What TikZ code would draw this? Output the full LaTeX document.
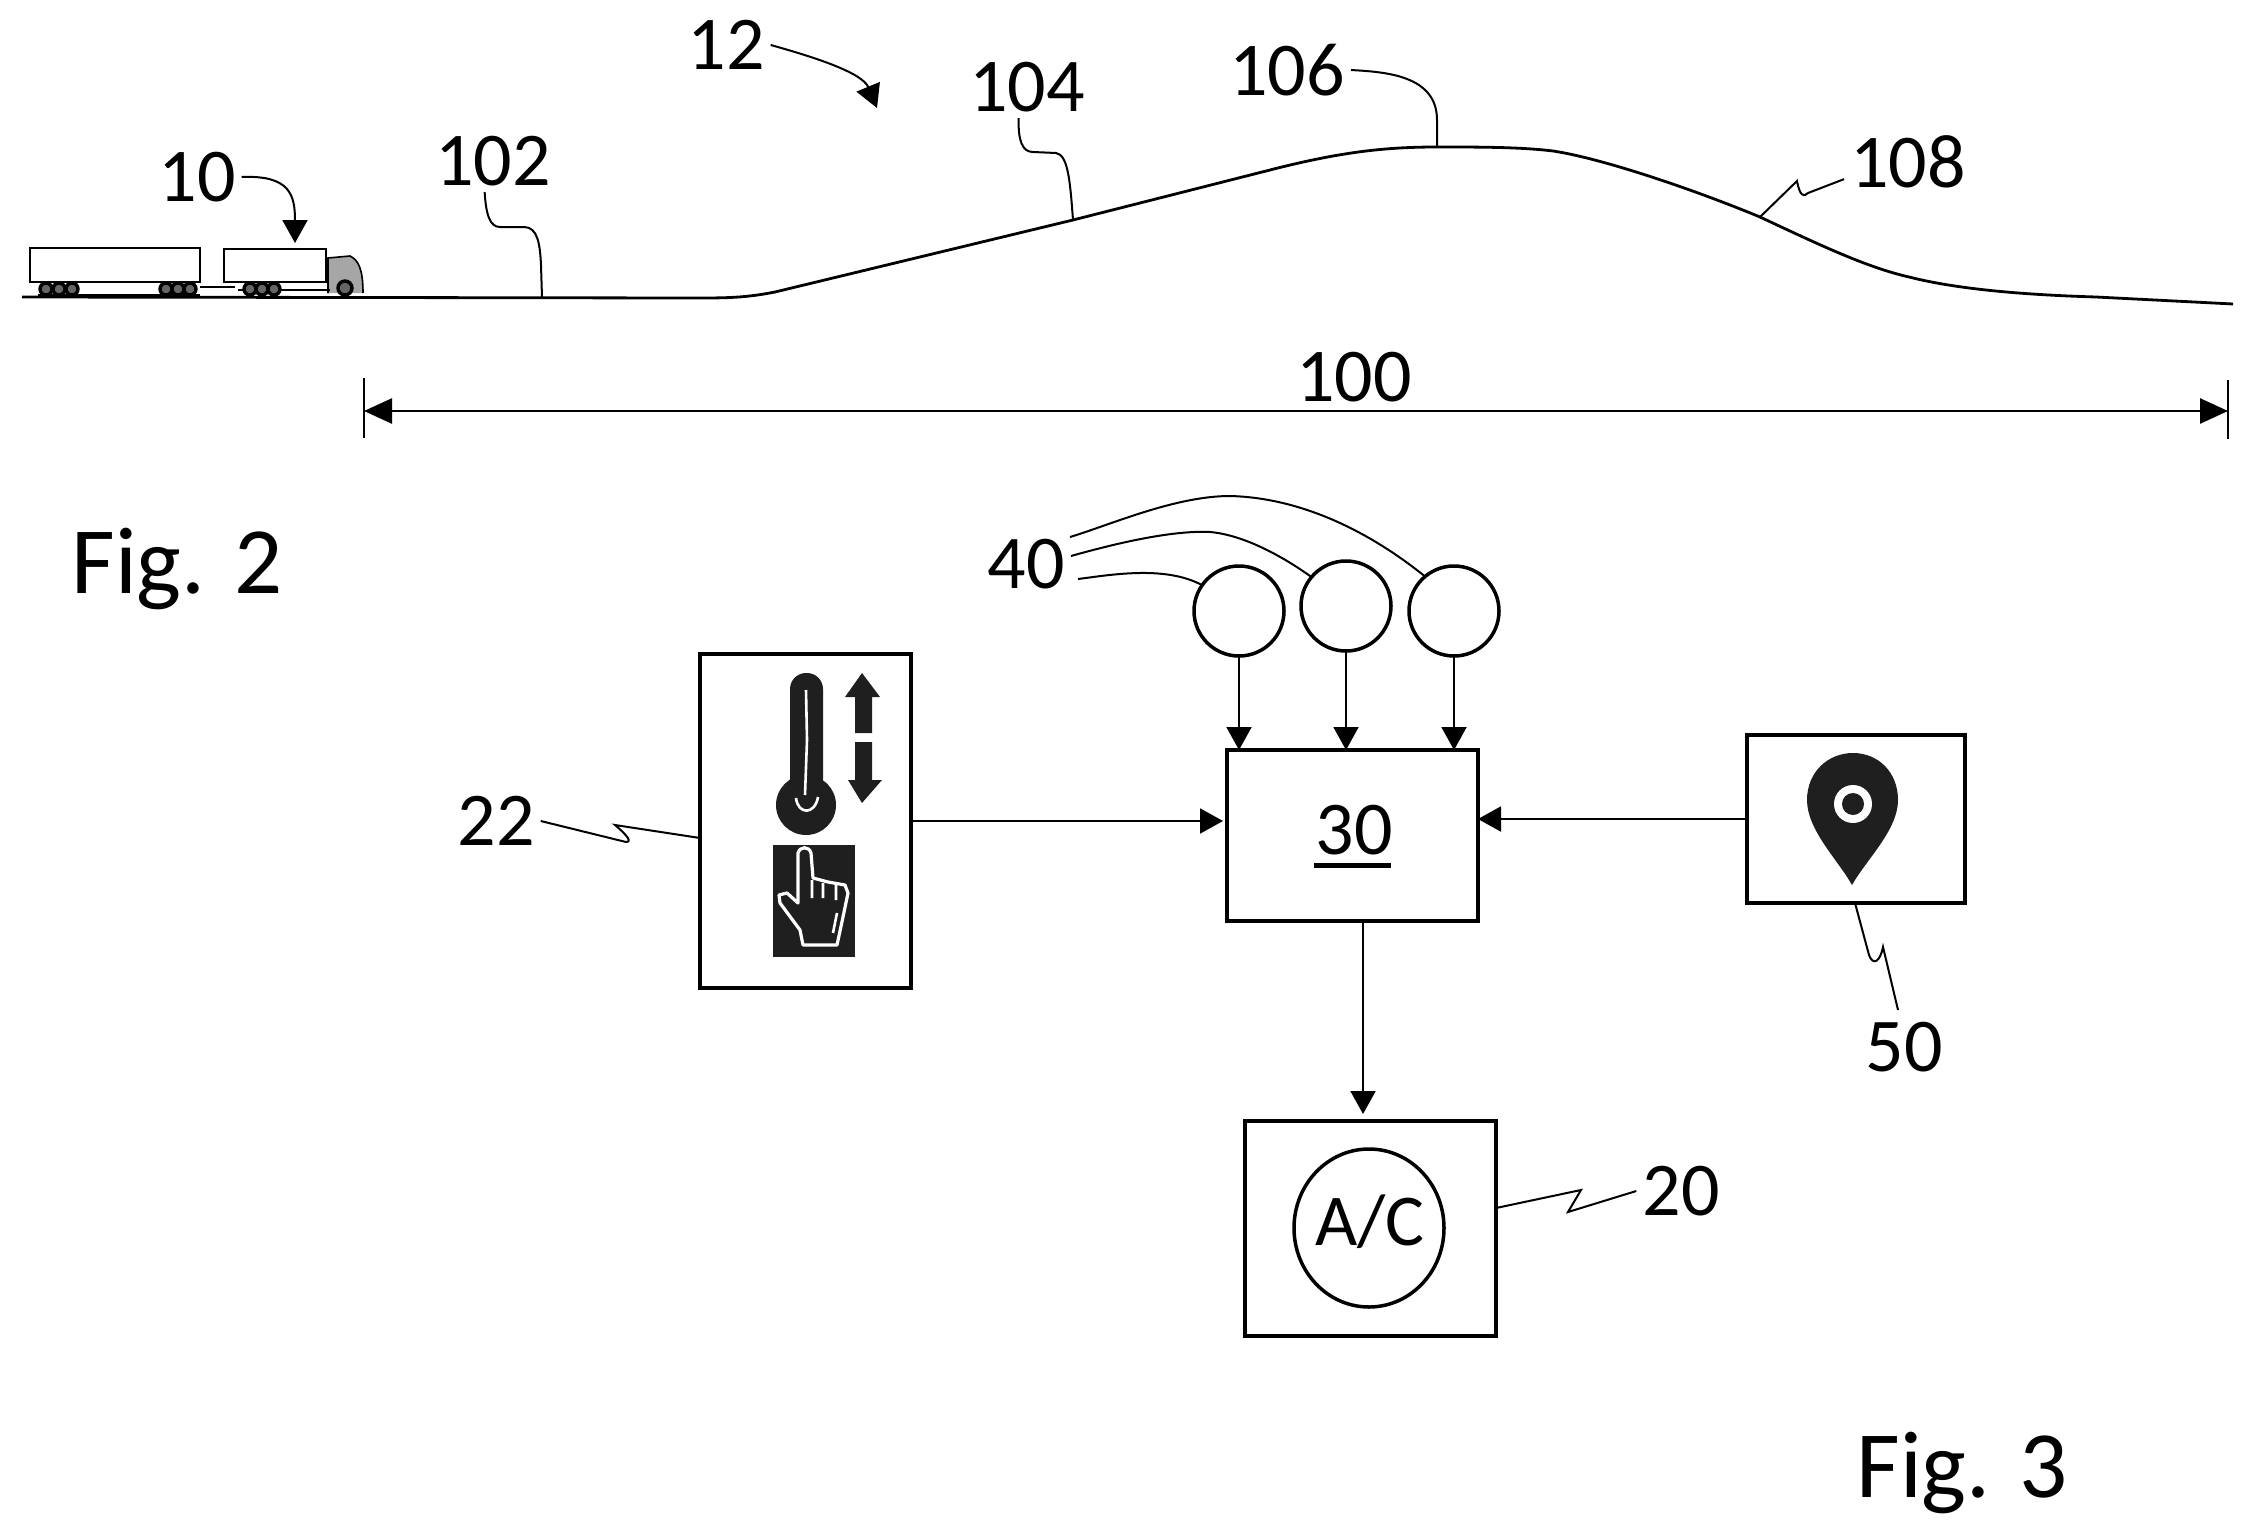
\documentclass[tikz,border=0pt]{standalone}
\usepackage{fontspec}
\setmainfont{Carlito}
\usetikzlibrary{arrows.meta,shapes.geometric}

\tikzset{
  blockbox/.style = {draw, line width=4.5pt, outer sep=0pt, inner sep=0pt},
  sensor/.style = {draw, circle, line width=3.5pt, outer sep=0pt, inner sep=0pt, minimum size=90pt},
  reflabel/.style = {inner sep=6pt, font=\fontsize{76}{80}\selectfont},
  figlabel/.style = {anchor=base, inner sep=0pt, font=\fontsize{95}{100}\selectfont},
  flow/.style = {line width=2pt, -{Triangle[length=23pt,width=25pt]}},
  leader/.style = {line width=2pt},
  ground/.style = {line width=2.8pt},
  truckline/.style = {line width=1.6pt},
}

\begin{document}
\begin{tikzpicture}[x=1pt,y=-1pt]
\useasboundingbox (0,0) rectangle (2254,1536);

% Road profile
\coordinate (flatpt) at (542,297);
\coordinate (climbpt) at (1073,220);
\coordinate (crestpt) at (1437,147);
\coordinate (descentpt) at (1760,217);
\draw[ground] (22,297) -- (695,298) .. controls (725,298) and (745,298) .. (775,292) -- (climbpt) -- (1270,170)
  .. controls (1340,152) and (1385,147) .. (crestpt) .. controls (1480,147) and (1520,147) .. (1553,151)
  .. controls (1600,158) and (1690,188) .. (descentpt) .. controls (1830,250) and (1870,268) .. (1909,277)
  .. controls (1960,290) and (2030,295) .. (2096,297) -- (2233,304);

% Truck
\draw[truckline] (30,248) rectangle (200,282);
\draw[truckline] (224,249) rectangle (326,282);
\draw[truckline,fill=black!35] (328,293) -- (328,258) -- (350,256) .. controls (358,260) and (363,268) .. (363,293);
\draw[truckline] (38,295) -- (200,295);
\draw[truckline] (200,287) -- (235,287);
\draw[truckline] (238,290) -- (330,290);
\draw[line width=3.4pt,fill=black!60] (46,289) circle (6pt) (59,289) circle (6pt) (72,289) circle (6pt)
  (166,289) circle (6pt) (178,289) circle (6pt) (190,289) circle (6pt)
  (250,289) circle (6pt) (262,289) circle (6pt) (274,289) circle (6pt) (345,288) circle (7pt);

% Reference labels, upper figure
\node[reflabel] at (197,177) (lbltruck) {10};
\node[reflabel] at (726,45) (lblroute) {12};
\node[reflabel] at (493,161) (lblflat) {102};
\node[reflabel] at (1027,87) (lblclimb) {104};
\node[reflabel] at (1287,70) (lblcrest) {106};
\node[reflabel] at (1908,162) (lbldescent) {108};
\node[reflabel] at (1354,377) (lbllength) {100};
\node[figlabel] at (177,593) (figtwo) {Fig. 2};

\coordinate (trucktip) at (295,243);
\coordinate (routetip) at (877,108);
\draw[flow] (lbltruck.east) .. controls (290,175) and (295,195) .. (trucktip);
\draw[flow] (lblroute.east) .. controls (810,56) and (862,72) .. (routetip);
\draw[leader] (lblflat.255) .. controls (486,215) and (490,227) .. (500,227) -- (524,227) .. controls (538,227) and (540,245) .. (541,265) -- (flatpt);
\draw[leader] (lblclimb.255) .. controls (1018,140) and (1022,152) .. (1033,152) -- (1056,153) .. controls (1068,155) and (1070,180) .. (climbpt);
\draw[leader] (lblcrest.east) .. controls (1385,72) and (1437,75) .. (1437,120) -- (crestpt);
\draw[leader] (descentpt) -- (1797,181) .. controls (1800,197) and (1804,197) .. (1808,193) -- (lbldescent.195);

% Length of the route
\coordinate (dimleft) at (364,411);
\coordinate (dimright) at (2228,411);
\draw[line width=2.6pt,{Triangle[length=28pt,width=25pt]}-{Triangle[length=28pt,width=25pt]}] (dimleft) -- (dimright);
\draw[leader] (dimleft)+(0,-33) -- +(0,27);
\draw[leader] (dimright)+(0,-31) -- +(0,28);

% Blocks, lower figure
\node[blockbox,minimum width=211pt,minimum height=334pt] at (805.5,821) (userbox) {};
\node[blockbox,minimum width=251pt,minimum height=171pt] at (1352.5,835.5) (ctrlbox) {};
\node[blockbox,minimum width=218pt,minimum height=168pt] at (1856,819) (gpsbox) {};
\node[blockbox,minimum width=251pt,minimum height=215pt] at (1370.5,1228.5) (acbox) {};
\node[draw,ellipse,line width=3.5pt,inner sep=0pt,minimum width=150pt,minimum height=158pt] at (1369,1228) (acring) {};

\node[inner sep=0pt,font=\fontsize{76}{80}\selectfont] at (1354,830) (ctrltext) {30};
\draw[line width=5pt] (1314,865) -- (1391,865);
\node[inner sep=0pt,font=\fontsize{73}{78}\selectfont] at (1370,1222) (actext) {A/C};

\node[sensor] at (1239,611) (sensora) {};
\node[sensor] at (1346,606) (sensorb) {};
\node[sensor] at (1454,611) (sensorc) {};

% Signal flow
\draw[flow] (sensora.south) -- (sensora.south |- ctrlbox.north);
\draw[flow] (sensorb.south) -- (sensorb.south |- ctrlbox.north);
\draw[flow] (sensorc.south) -- (sensorc.south |- ctrlbox.north);
\draw[flow,shorten >=4pt] (userbox.east) -- (userbox.east -| ctrlbox.west);
\draw[flow] (gpsbox.west) -- (gpsbox.west -| ctrlbox.east);
\draw[flow,shorten >=7pt] (ctrlbox.south -| 1363,0) -- (acbox.north -| 1363,0);

% Reference labels, lower figure
\node[reflabel] at (1026,564) (lblsensor) {40};
\node[reflabel] at (496,821) (lbluser) {22};
\node[reflabel] at (1904,1047) (lblgps) {50};
\node[reflabel] at (1681,1191) (lblac) {20};
\node[figlabel] at (1962,1497) (figthree) {Fig. 3};

\draw[leader] (1078,579) .. controls (1110,575) and (1165,565) .. (sensora.145);
\draw[leader] (1071,556) .. controls (1110,545) and (1170,530) .. (1210,532) .. controls (1245,535) and (1285,558) .. (sensorb.140);
\draw[leader] (1070,537) .. controls (1110,525) and (1175,496) .. (1230,496) .. controls (1310,498) and (1380,540) .. (sensorc.130);
\draw[leader] (lbluser.east) -- (626,842) .. controls (632,842) and (628,836) .. (615,825) -- (userbox.west |- 0,838);
\draw[leader] (gpsbox.south -| 1855,0) -- (1869,955) .. controls (1873,966) and (1880,962) .. (1883,947) -- (1898,1010);
\draw[leader] (acbox.east |- 0,1208) -- (1581,1190) -- (1568,1212) -- (lblac.west);

% Temperature icon
\fill[black!88] (773,845) rectangle (855,957);
\fill[black!88,rounded corners=16pt] (790,673) rectangle (823,795);
\fill[black!88] (806,805) circle (30pt);
\draw[white,line width=2.6pt] (806,690) -- (807,740) -- (805,795);
\draw[white,line width=2.6pt] (796,798) .. controls (798,815) and (815,815) .. (818,797);
\fill[black!88] (862,673) -- (880,697) -- (872,697) -- (872,733) -- (855,733) -- (855,697) -- (845,697) -- cycle;
\fill[black!88] (862,803) -- (882,780) -- (872,780) -- (872,742) -- (855,742) -- (855,780) -- (848,780) -- cycle;
% Hand
\draw[white,line width=3.2pt,line join=round] (798,903) -- (798,853) .. controls (800,846) and (809,846) .. (811,853)
  -- (813,878) -- (828,882) -- (845,885) -- (848,893) -- (843,917) -- (837,945) -- (803,945) -- (800,930)
  -- (780,903) -- (779,895) -- (787,893) -- cycle;
\draw[white,line width=2.6pt] (812,880) -- (812,898) (823,883) -- (823,898) (836,885) -- (836,900) (837,913) -- (833,933);

% Location pin
\fill[black!88] (1852,885) .. controls (1838,860) and (1807,830) .. (1807,800) .. controls (1807,772) and (1828,753) .. (1853,753)
  .. controls (1878,753) and (1898,772) .. (1898,800) .. controls (1898,830) and (1866,860) .. (1852,885) -- cycle;
\fill[white] (1853,804) circle (19pt);
\fill[black!88] (1853,804) circle (11pt);

\end{tikzpicture}
\end{document}
